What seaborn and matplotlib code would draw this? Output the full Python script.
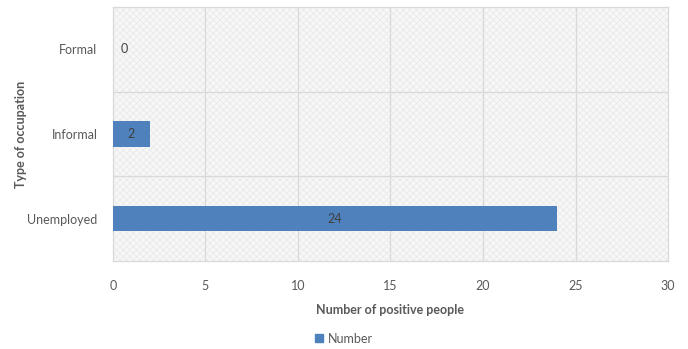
import matplotlib
matplotlib.use("Agg")
import matplotlib.pyplot as plt
import seaborn as sns
import pandas as pd

occupations = ["Formal", "Informal", "Unemployed"]
positives = [0, 2, 24]
x_ticks = [0, 5, 10, 15, 20, 25, 30]

df = pd.DataFrame({"Type of occupation": occupations, "Number": positives})

sns.set_theme(style="white")
plt.rcParams["font.family"] = ["Lato", "DejaVu Sans"]
plt.rcParams["hatch.linewidth"] = 0.5

text_col = "#595959"
grid_col = "#d9d9d9"
bar_col = "#4f81bd"

fig = plt.figure(figsize=(6.88, 3.49), dpi=100)
ax = fig.add_axes([0.164, 0.252, 0.807, 0.728])

# textured plot-area background
ax.set_facecolor("#f7f7f7")
ax.patch.set_hatch("xxxxx")
ax.patch.set_edgecolor("#e8e8e8")

sns.barplot(data=df, y="Type of occupation", x="Number", orient="h",
            color=bar_col, saturation=1, width=0.3, ax=ax, zorder=3,
            linewidth=0, edgecolor="none")

ax.set_xlim(0, 30)
ax.set_ylim(2.5, -0.5)
ax.set_xticks(x_ticks)
ax.set_xticklabels([str(t) for t in x_ticks])

for t in x_ticks[1:-1]:
    ax.axvline(t, color=grid_col, lw=0.9, zorder=1)
for y in [0.5, 1.5]:
    ax.axhline(y, color=grid_col, lw=0.9, zorder=1)

for s in ax.spines.values():
    s.set_color(grid_col)
    s.set_linewidth(0.9)

ax.tick_params(axis="both", length=0, labelsize=9, colors=text_col)
ax.tick_params(axis="x", pad=14)
ax.tick_params(axis="y", pad=11)

ax.set_xlabel("Number of positive people", fontsize=9, fontweight="bold",
              color=text_col, labelpad=8)
ax.set_ylabel("Type of occupation", fontsize=9, fontweight="bold",
              color=text_col)
ax.yaxis.set_label_coords(-0.155, 0.5)

for i, v in enumerate(positives):
    ax.annotate(str(v), xy=(v / 2, i), xytext=(8 if v == 0 else 0, 0),
                textcoords="offset points", ha="center", va="center",
                fontsize=9, color="#404040", zorder=4)

handle = plt.Rectangle((0, 0), 1, 1, color=bar_col)
fig.legend([handle], ["Number"], loc="center", bbox_to_anchor=(0.5, 0.03),
           frameon=False, fontsize=9, handlelength=0.6, handleheight=0.6,
           handletextpad=0.4, labelcolor=text_col)

fig.savefig("out.png", dpi=100)
